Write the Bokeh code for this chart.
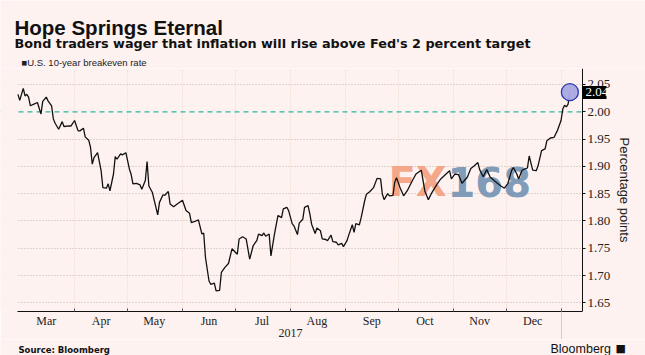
from datetime import datetime
import pandas as pd
from bokeh.plotting import figure
from bokeh.layouts import column
from bokeh.models import (ColumnDataSource, Range1d, DatetimeAxis, LinearAxis, FixedTicker,
                          DatetimeTickFormatter, PrintfTickFormatter, Label, Span, BoxAnnotation)
from bokeh.embed import file_html
from bokeh.resources import INLINE

# ---------------- data ----------------
dates = [
    "2017-02-28", "2017-03-01", "2017-03-03", "2017-03-04", "2017-03-05", "2017-03-06",
    "2017-03-07", "2017-03-09", "2017-03-11", "2017-03-13", "2017-03-14", "2017-03-16",
    "2017-03-17", "2017-03-19", "2017-03-20", "2017-03-21", "2017-03-23", "2017-03-25",
    "2017-03-26", "2017-03-29", "2017-03-30", "2017-04-01", "2017-04-03", "2017-04-04",
    "2017-04-06", "2017-04-07", "2017-04-09", "2017-04-10", "2017-04-11", "2017-04-12",
    "2017-04-14", "2017-04-16", "2017-04-17", "2017-04-19", "2017-04-20", "2017-04-21",
    "2017-04-23", "2017-04-24", "2017-04-25", "2017-04-27", "2017-04-28", "2017-04-30",
    "2017-05-02", "2017-05-03", "2017-05-04", "2017-05-06", "2017-05-08", "2017-05-09",
    "2017-05-11", "2017-05-12", "2017-05-13", "2017-05-15", "2017-05-16", "2017-05-18",
    "2017-05-19", "2017-05-21", "2017-05-22", "2017-05-24", "2017-05-25", "2017-05-27",
    "2017-05-29", "2017-06-01", "2017-06-03", "2017-06-05", "2017-06-06", "2017-06-08",
    "2017-06-10", "2017-06-12", "2017-06-13", "2017-06-14", "2017-06-16", "2017-06-17",
    "2017-06-19", "2017-06-20", "2017-06-22", "2017-06-23", "2017-06-25", "2017-06-27",
    "2017-06-29", "2017-07-02", "2017-07-03", "2017-07-05", "2017-07-07", "2017-07-09",
    "2017-07-11", "2017-07-13", "2017-07-14", "2017-07-16", "2017-07-17", "2017-07-18",
    "2017-07-20", "2017-07-21", "2017-07-23", "2017-07-25", "2017-07-27", "2017-07-28",
    "2017-07-30", "2017-07-31", "2017-08-02", "2017-08-03", "2017-08-05", "2017-08-06",
    "2017-08-08", "2017-08-09", "2017-08-11", "2017-08-12", "2017-08-13", "2017-08-15",
    "2017-08-16", "2017-08-18", "2017-08-19", "2017-08-21", "2017-08-22", "2017-08-24",
    "2017-08-25", "2017-08-27", "2017-08-28", "2017-08-30", "2017-08-31", "2017-09-02",
    "2017-09-03", "2017-09-05", "2017-09-06", "2017-09-07", "2017-09-09", "2017-09-10",
    "2017-09-12", "2017-09-13", "2017-09-15", "2017-09-17", "2017-09-19", "2017-09-21",
    "2017-09-22", "2017-09-23", "2017-09-25", "2017-09-26", "2017-09-28", "2017-09-29",
    "2017-09-30", "2017-10-02", "2017-10-04", "2017-10-06", "2017-10-09", "2017-10-11",
    "2017-10-14", "2017-10-16", "2017-10-18", "2017-10-20", "2017-10-23", "2017-10-25",
    "2017-10-28", "2017-10-30", "2017-10-31", "2017-11-02", "2017-11-04", "2017-11-06",
    "2017-11-09", "2017-11-11", "2017-11-13", "2017-11-15", "2017-11-16", "2017-11-18",
    "2017-11-20", "2017-11-22", "2017-11-25", "2017-11-28", "2017-11-30", "2017-12-02",
    "2017-12-04", "2017-12-05", "2017-12-07", "2017-12-08", "2017-12-10", "2017-12-13",
    "2017-12-14", "2017-12-16", "2017-12-18", "2017-12-19", "2017-12-21", "2017-12-23",
    "2017-12-24", "2017-12-26", "2017-12-28", "2017-12-30", "2018-01-01", "2018-01-02",
    "2018-01-03", "2018-01-04", "2018-01-05", "2018-01-06",
]
breakeven = [
    2.032, 2.021, 2.043, 2.029, 2.032, 2.027,
    2.011, 2.014, 2.017, 1.996, 2.019, 2.027,
    2.020, 2.011, 1.987, 1.979, 1.968, 1.982,
    1.973, 1.974, 1.974, 1.984, 1.965, 1.965,
    1.970, 1.954, 1.948, 1.935, 1.904, 1.916,
    1.925, 1.892, 1.861, 1.860, 1.868, 1.855,
    1.886, 1.918, 1.913, 1.923, 1.921, 1.925,
    1.895, 1.885, 1.868, 1.869, 1.866, 1.858,
    1.874, 1.909, 1.864, 1.852, 1.838, 1.811,
    1.834, 1.848, 1.847, 1.854, 1.831, 1.826,
    1.831, 1.838, 1.819, 1.814, 1.797, 1.799,
    1.802, 1.776, 1.778, 1.733, 1.690, 1.684,
    1.686, 1.672, 1.673, 1.706, 1.715, 1.722,
    1.749, 1.739, 1.767, 1.771, 1.767, 1.730,
    1.755, 1.764, 1.776, 1.773, 1.778, 1.772,
    1.776, 1.736, 1.776, 1.810, 1.806, 1.822,
    1.825, 1.819, 1.795, 1.791, 1.775, 1.796,
    1.803, 1.825, 1.828, 1.813, 1.794, 1.777,
    1.787, 1.782, 1.767, 1.766, 1.764, 1.774,
    1.762, 1.761, 1.756, 1.759, 1.753, 1.764,
    1.774, 1.793, 1.779, 1.795, 1.793, 1.806,
    1.837, 1.849, 1.854, 1.861, 1.878, 1.877,
    1.849, 1.839, 1.850, 1.846, 1.847, 1.871,
    1.879, 1.861, 1.846, 1.855, 1.874, 1.886,
    1.893, 1.855, 1.839, 1.852, 1.868, 1.877,
    1.886, 1.892, 1.877, 1.886, 1.885, 1.869,
    1.880, 1.896, 1.901, 1.907, 1.894, 1.881,
    1.894, 1.880, 1.872, 1.864, 1.860, 1.869,
    1.892, 1.898, 1.886, 1.877, 1.893, 1.897,
    1.919, 1.893, 1.892, 1.901, 1.929, 1.932,
    1.947, 1.952, 1.953, 1.966, 1.984, 2.005,
    2.012, 2.009, 2.014, 2.036,
]
month_label_dates = ["2017-03-16", "2017-04-16", "2017-05-16", "2017-06-16", "2017-07-16",
                     "2017-08-16", "2017-09-16", "2017-10-16", "2017-11-16", "2017-12-16"]
month_starts = ["2017-04-01", "2017-05-01", "2017-06-01", "2017-07-01", "2017-08-01",
                "2017-09-01", "2017-10-01", "2017-11-01", "2017-12-01", "2018-01-01"]
year_label_date = "2017-08-01"
year_break = "2018-01-01"
y_ticks = [1.65, 1.70, 1.75, 1.80, 1.85, 1.90, 1.95, 2.00, 2.05]
target_level = 2.00
series_name = "U.S. 10-year breakeven rate"

title = "Hope Springs Eternal"
subtitle = "Bond traders wager that inflation will rise above Fed's 2 percent target"
source_text = "Source: Bloomberg"
brand_text = "Bloomberg"
y_axis_title = "Percentage points"
watermark = ["FX", "168"]

# ---------------- helpers ----------------
def ms(s):
    return pd.Timestamp(s).value / 1e6

def dt_fmt(fmt):
    return DatetimeTickFormatter(microseconds=fmt, milliseconds=fmt, seconds=fmt, minsec=fmt,
                                 minutes=fmt, hourmin=fmt, hours=fmt, days=fmt, months=fmt,
                                 years=fmt)

BG = "#FDF2F0"
W = 645
HEAD_H = 68
MAIN_H = 271
FOOT_H = 355 - HEAD_H - MAIN_H

# x extent of the whole canvas width and of the plotting area inside it
view_start, view_end = datetime(2017, 2, 18, 3), datetime(2018, 2, 17, 18)
plot_start, plot_end = datetime(2017, 2, 27, 18), datetime(2018, 1, 13, 3)
y_lo, y_hi = 1.6341, 2.0793


def text_panel(height, top):
    f = figure(width=W, height=height, x_range=Range1d(0, W), y_range=Range1d(top + height, top),
               output_backend="svg", toolbar_location=None, x_axis_location=None,
               y_axis_location=None, min_border=0)
    f.background_fill_color = BG
    f.border_fill_color = BG
    f.outline_line_color = None
    f.grid.visible = False
    return f


def lab(f, text, x, y, size, font="Liberation Sans", style="normal", color="#111111",
        align="left", **kw):
    f.add_layout(Label(x=x, y=y, text=text, text_font=font, text_font_size=size,
                       text_font_style=style, text_color=color, text_align=align,
                       text_baseline="alphabetic", **kw))

# ---------------- header ----------------
head = text_panel(HEAD_H, 0)
lab(head, title, 14, 27, "20.5px", style="bold")
lab(head, subtitle, 14, 43, "12.8px", font="DejaVu Sans", style="bold")
lab(head, "\u25A0" + series_name, 21, 62, "9.5px", color="#222222")

# ---------------- main chart ----------------
src = ColumnDataSource(dict(date=pd.to_datetime(dates), value=breakeven))

p = figure(width=W, height=MAIN_H, x_axis_type="datetime", y_axis_location="right",
           output_backend="svg", toolbar_location=None,
           x_range=Range1d(view_start, view_end), y_range=Range1d(y_lo, y_hi),
           min_border_left=0, min_border_right=0, min_border_top=0, min_border_bottom=28)
p.background_fill_color = BG
p.border_fill_color = BG
p.outline_line_color = None

p.xgrid.ticker = FixedTicker(ticks=[ms(d) for d in month_starts])
p.xgrid.grid_line_color = "#E6D6C2"
p.xgrid.grid_line_dash = "1 2"
p.ygrid.ticker = FixedTicker(ticks=[t for t in y_ticks if abs(t - target_level) > 1e-9])
p.ygrid.grid_line_color = "#C4B6AA"
p.ygrid.grid_line_dash = "1 2"

p.add_layout(Span(location=target_level, dimension="width", line_color="#2DB59C",
                  line_dash="5 4", line_width=1.2, level="underlay"))

# mask the margins left and right of the plotting area
for left, right in [(view_start, plot_start), (plot_end, view_end)]:
    p.add_layout(BoxAnnotation(left=ms(left), right=ms(right), bottom=y_lo, top=y_hi,
                               fill_color=BG, fill_alpha=1.0, line_color=None, level="underlay"))

# watermark (under the line); screen units are measured from the frame's bottom-left
wm_y = 130
p.add_layout(Label(x=388, y=wm_y, x_units="screen", y_units="screen",
                   text=watermark[0], text_font="DejaVu Sans", text_font_size="40px",
                   text_font_style="bold", text_color="#F39A76", text_alpha=0.85,
                   text_baseline="alphabetic", level="underlay"))
p.add_layout(Label(x=447, y=wm_y, x_units="screen", y_units="screen",
                   text=watermark[1], text_font="DejaVu Sans", text_font_size="40px",
                   text_font_style="bold", text_color="#6A8DAF", text_alpha=0.85,
                   text_baseline="alphabetic", level="underlay"))

p.line("date", "value", source=src, line_color="#111111", line_width=1.3)
p.scatter([pd.Timestamp(dates[-1])], [breakeven[-1]], size=17, fill_color="#A8A8E2",
          fill_alpha=0.95, line_color="#2639B3", line_width=1.3)

# month axis
xa = p.xaxis[0]
xa.bounds = (ms(plot_start), ms(plot_end))
xa.ticker = FixedTicker(ticks=[ms(d) for d in month_label_dates],
                        minor_ticks=[ms(d) for d in month_starts])
xa.formatter = dt_fmt("%b")
xa.axis_line_color = "#111111"
xa.major_tick_line_color = None
xa.major_tick_in = 0
xa.major_tick_out = 0
xa.minor_tick_in = 3
xa.minor_tick_out = 0
xa.minor_tick_line_color = "#555555"
xa.major_label_standoff = 2
xa.major_label_text_font = "Liberation Sans Narrow"
xa.major_label_text_font_size = "12px"
xa.major_label_text_color = "#222222"

# year label axis
xa2 = DatetimeAxis(ticker=FixedTicker(ticks=[ms(year_label_date)], minor_ticks=[]),
                   formatter=dt_fmt("%Y"))
xa2.axis_line_color = None
xa2.major_tick_line_color = None
xa2.major_tick_in = 0
xa2.major_tick_out = 0
xa2.minor_tick_line_color = None
xa2.major_label_standoff = -2
xa2.major_label_text_font = "Liberation Sans Narrow"
xa2.major_label_text_font_size = "12px"
xa2.major_label_text_color = "#222222"
p.add_layout(xa2, "below")

# long year separator
xa3 = DatetimeAxis(ticker=FixedTicker(ticks=[ms(year_break)], minor_ticks=[]),
                   formatter=dt_fmt(""))
xa3.axis_line_color = None
xa3.major_tick_in = 28
xa3.major_tick_out = 0
xa3.major_tick_line_color = "#D6CABC"
xa3.major_label_text_font_size = "0px"
xa3.major_label_standoff = 0
xa3.minor_tick_line_color = None
p.add_layout(xa3, "below")

# right value axis, pinned at the right edge of the plotting area
ya = p.yaxis[0]
ya.fixed_location = ms(plot_end)
ya.ticker = FixedTicker(ticks=y_ticks)
ya.formatter = PrintfTickFormatter(format="%.2f")
ya.axis_line_color = "#111111"
ya.major_tick_line_color = "#111111"
ya.major_tick_in = 0
ya.major_tick_out = 3
ya.minor_tick_line_color = None
ya.major_label_standoff = 2
ya.major_label_text_font = "Liberation Sans Narrow"
ya.major_label_text_font_size = "13px"
ya.major_label_text_color = "#222222"
ya.axis_label = y_axis_title
ya.axis_label_text_font = "Liberation Sans"
ya.axis_label_text_font_style = "normal"
ya.axis_label_text_font_size = "13px"
ya.axis_label_text_color = "#222222"
ya.axis_label_standoff = 4

# last-value tag: an axis with a single thick tick at the last value
tag = LinearAxis(fixed_location=ms(plot_end),
                 ticker=FixedTicker(ticks=[breakeven[-1]], minor_ticks=[]),
                 formatter=PrintfTickFormatter(format="%.2f"))
tag.axis_line_color = None
tag.major_tick_in = 0
tag.major_tick_out = 24
tag.major_tick_line_width = 13
tag.major_tick_line_color = "#000000"
tag.minor_tick_line_color = None
tag.major_label_standoff = -21
tag.major_label_text_color = "#FFFFFF"
tag.major_label_text_font = "Liberation Sans Narrow"
tag.major_label_text_font_size = "13px"
p.add_layout(tag, "right")

# ---------------- footer ----------------
foot = text_panel(FOOT_H, HEAD_H + MAIN_H)
lab(foot, source_text, 18, 349, "8.5px", font="DejaVu Sans", style="bold")
lab(foot, brand_text, 550, 348, "12.5px", font="Liberation Sans")
lab(foot, "\u25A0", 615, 348, "11px", font="DejaVu Sans")

layout = column(head, p, foot, spacing=0)
open("out.html", "w").write(file_html(layout, INLINE))
